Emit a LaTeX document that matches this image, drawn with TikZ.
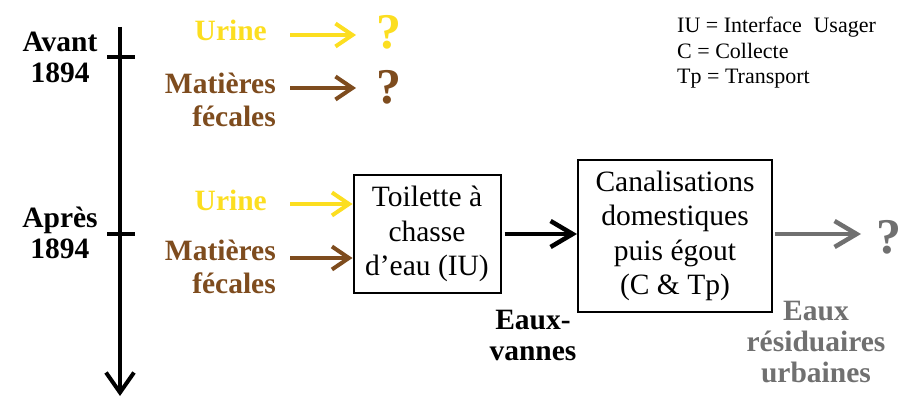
\documentclass[tikz,border=0pt]{standalone}
\usepackage{fontspec}
\setmainfont{Liberation Serif}
\usetikzlibrary{arrows.meta}
\definecolor{urinecol}{RGB}{252,222,32}
\definecolor{fecescol}{RGB}{126,76,30}
\definecolor{eaucol}{RGB}{112,112,112}
\tikzset{
  lbl/.style={font=\fontsize{29.5}{31}\selectfont\bfseries, align=center, inner sep=0pt},
  matlbl/.style={font=\fontsize{29.5}{33}\selectfont\bfseries, align=right, inner sep=0pt, anchor=east},
  qmark/.style={font=\fontsize{50}{52}\selectfont\bfseries, inner sep=0pt},
  boxnode/.style={draw, line width=2pt, align=center, font=\fontsize{29.5}{34.5}\selectfont, inner sep=0pt},
  flow/.style={line width=4pt, -{Straight Barb[length=17pt,width=23pt,line width=4pt]}},
  bigflow/.style={line width=4.5pt, -{Straight Barb[length=22pt,width=26pt,line width=4.5pt]}},
}
\begin{document}
\begin{tikzpicture}[x=1pt,y=-1pt]
\useasboundingbox (0,0) rectangle (903,398);
% time axis
\coordinate (axtop) at (120,27);
\coordinate (axbot) at (120,396);
\draw[line width=4pt, -{Straight Barb[length=20pt,width=28pt,line width=4pt]}] (axtop) -- (axbot);
\draw[line width=4pt] (107,57) -- (135,57);
\draw[line width=4pt] (107,234) -- (135,234);
\node[lbl] (avant) at (60,57) {Avant\\1894};
\node[lbl] (apres) at (60,233) {Après\\1894};
% avant 1894
\node[lbl, urinecol, anchor=east] (urineA) at (267,30) {Urine};
\node[matlbl, fecescol] (fecesA) at (276,100) {Matières\\fécales};
\node[qmark, urinecol] (qurine) at (389,32) {?};
\node[qmark, fecescol] (qfeces) at (389,87) {?};
\coordinate (uAs) at (290,35);
\coordinate (uAe) at (356,35);
\coordinate (fAs) at (290,88);
\coordinate (fAe) at (356,88);
\draw[flow, urinecol] (uAs) -- (uAe);
\draw[flow, fecescol] (fAs) -- (fAe);
% apres 1894
\node[lbl, urinecol, anchor=east] (urineB) at (267,200) {Urine};
\node[matlbl, fecescol] (fecesB) at (276,267) {Matières\\fécales};
\node[boxnode, minimum width=147pt, minimum height=118pt] (toilette) at (427,234) {Toilette à\\chasse\\d’eau (IU)};
\node[boxnode, minimum width=194pt, minimum height=152pt] (egout) at (675,236) {Canalisations\\domestiques\\puis égout\\(C \& Tp)};
\coordinate (uBs) at (290,204);
\coordinate (fBs) at (290,258);
\draw[flow, urinecol] (uBs) -- (uBs -| toilette.west);
\draw[flow, fecescol] (fBs) -- (fBs -| toilette.west);
\draw[bigflow, shorten <=3pt] (toilette.east) -- (toilette.east -| egout.west);
\node[qmark, eaucol] (qeaux) at (889,237) {?};
\coordinate (gEs) at (775,234);
\coordinate (gEe) at (861,234);
\draw[bigflow, eaucol] (gEs) -- (gEe);
\node[lbl] (vannes) at (533,335) {Eaux-\\vannes};
\node[lbl, eaucol] (residu) at (816,342) {Eaux\\résiduaires\\urbaines};
% legende
\node[font=\fontsize{22}{25.5}\selectfont, align=left, anchor=north west, inner sep=0pt] (legende) at (677,17) {IU = Interface\; Usager\\C = Collecte\\Tp = Transport};
\end{tikzpicture}
\end{document}
